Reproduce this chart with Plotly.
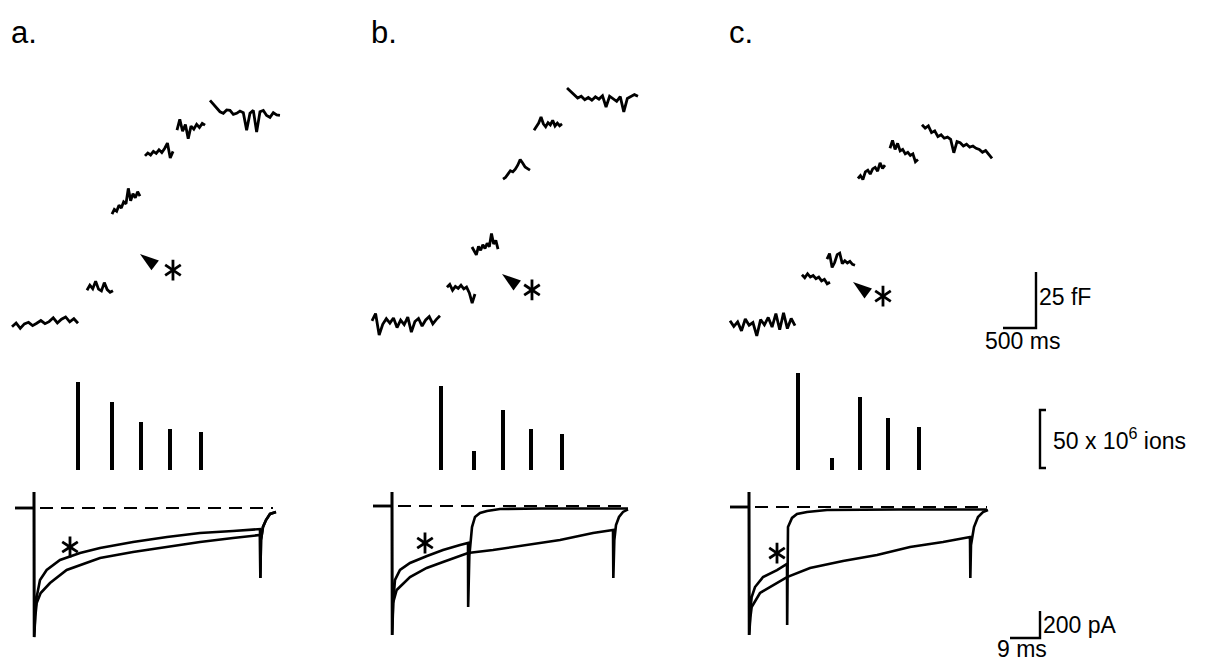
import numpy as np
import plotly.graph_objects as go

W, H = 1205, 663

# ================= DATA =================
panel_labels = ["a.", "b.", "c."]

# ---- membrane capacitance (fF, relative to pre-train baseline); segments between trains ----
cap_a_start = [0, 1136, 1515, 2015, 2500, 3000]
cap_a_end = [1000, 1530, 1939, 2440, 2925, 4060]
cap_a_vals = [
    [-0.8, 0.9, -1.5, 0.5, 1.2, -0.3, 0.8, 2.0, 0.6, 1.5, 3.2, 0.9, 2.6, 3.6, 1.4, 2.8, 0.8],
    [15.5, 17.8, 16.2, 19.5, 16.0, 15.2, 18.9, 15.8, 14.6, 15.3],
    [49.5, 51.6, 50.8, 53.5, 52.2, 55.0, 54.1, 61.0, 55.5, 58.6, 56.8, 59.5, 57.5],
    [75.5, 76.8, 75.9, 77.5, 76.6, 78.2, 77.0, 78.8, 81.2, 74.6, 77.5],
    [87.0, 91.8, 86.5, 89.5, 83.2, 88.8, 87.4, 89.6, 88.2, 90.0, 89.2],
    [100.3, 98.5, 97.1, 95.2, 94.5, 96.0, 95.8, 94.0, 94.5, 95.5, 94.8, 87.0, 94.5, 95.8,
     86.1, 95.2, 95.8, 93.5, 92.7, 94.8, 93.8, 93.6],
]

cap_b_start = [0, 1136, 1515, 1985, 2455, 2955]
cap_b_end = [1030, 1560, 1909, 2394, 2879, 4030]
cap_b_vals = [
    [0.5, 3.8, -5.8, -1.0, 1.5, -0.5, 1.8, -2.5, 0.8, -1.2, 2.2, -4.5, 0.2, 1.6, -1.8, 0.9, 2.4, -0.8, 1.2, 2.8],
    [15.5, 16.8, 14.2, 15.9, 15.0, 16.4, 14.8, 15.6, 13.0, 8.4, 12.5],
    [33.5, 31.5, 30.0, 33.8, 32.0, 34.5, 32.8, 35.2, 33.6, 39.5, 34.8, 36.4, 32.5],
    [63.8, 64.5, 66.0, 67.5, 67.0, 68.2, 70.0, 72.5, 71.0, 69.2, 68.5, 67.8],
    [85.6, 87.5, 88.8, 91.5, 88.5, 87.2, 89.0, 88.0, 90.0, 87.5, 88.8, 87.6, 88.4],
    [104.5, 103.0, 101.5, 100.0, 100.8, 99.2, 100.2, 99.0, 100.5, 99.5, 101.0, 96.0, 100.8,
     99.5, 98.5, 100.6, 93.8, 99.8, 100.5, 101.5, 100.8],
]

cap_c_start = [0, 1090, 1470, 1939, 2424, 2909]
cap_c_end = [985, 1515, 1894, 2348, 2848, 3970]
cap_c_vals = [
    [1.0, -1.5, 0.5, -3.5, 1.8, -1.0, 0.2, -5.8, 1.5, -0.8, 2.5, -1.8, 4.2, -3.0, 4.5, -2.5, 2.0, -1.2],
    [21.5, 20.2, 22.0, 20.5, 21.2, 19.8, 20.5, 18.8, 19.5, 17.5, 18.2],
    [28.5, 31.0, 24.8, 27.0, 30.5, 31.2, 26.5, 27.8, 26.8, 27.5, 26.2, 25.8],
    [64.5, 65.8, 64.0, 67.5, 68.2, 66.5, 68.8, 69.5, 67.8, 71.5, 69.0, 70.5],
    [78.0, 81.5, 77.5, 80.2, 76.8, 77.5, 75.5, 76.2, 74.8, 75.5, 72.0, 73.0],
    [88.5, 87.0, 88.0, 85.0, 85.8, 83.2, 84.0, 82.5, 83.0, 82.0, 76.0, 81.0, 80.5, 79.0,
     79.8, 78.5, 79.0, 78.0, 77.5, 76.2, 77.0, 75.0, 73.5],
]

# arrowhead tip and asterisk marking the test-pulse capacitance jump (ms, fF)
arrow_t = [1939, 1970, 1864]
arrow_c = [31.7, 21.4, 18.3]
cap_star_t = [2439, 2424, 2318]
cap_star_c = [24.5, 14.3, 12.0]

# ---- Ca2+ entry per depolarisation (x 10^6 ions) ----
ion_a_t = [1000, 1515, 1955, 2394, 2864]
ion_a_n = [76, 59, 41, 35, 33]
ion_b_t = [1045, 1545, 1985, 2409, 2879]
ion_b_n = [72, 16, 52, 35, 31]
ion_c_t = [1030, 1545, 1970, 2394, 2864]
ion_c_n = [84, 10, 63, 45, 37]

# ---- Ca2+ currents (ms, pA) ----
cur_a1_t = [-5.7, 0, 0, 0.05, 0.4, 0.8, 1.8, 3.8, 7.8, 13.8, 19.8, 29.7, 39.9, 49.8, 59.7, 67.2, 67.8,
            67.9, 68.1, 68.7, 69.6, 70.8, 72.6]
cur_a1_i = [0, 0, 118, -956, -760, -660, -533, -459, -385, -333, -296, -252, -215, -185, -170, -160, -156,
            -519, -237, -140, -89, -44, -30]
cur_a2_t = [-5.7, 0, 0, 0.05, 0.4, 0.8, 2.0, 4.8, 9.8, 19.8, 29.7, 39.9, 49.8, 59.7, 67.8,
            67.9, 68.1, 68.7, 69.6, 70.8, 72.6]
cur_a2_i = [0, 0, 118, -956, -800, -704, -630, -556, -459, -370, -326, -289, -252, -222, -200,
            -519, -237, -140, -89, -44, -30]

cur_b1_t = [-5.7, 0, 0, 0.05, 0.4, 0.9, 2.4, 5.4, 10.5, 15.3, 20.4, 22.8, 22.85, 23.2, 24.0, 24.9,
            26.4, 28.5, 32.4, 45, 70.8]
cur_b1_i = [0, 0, 104, -956, -700, -548, -474, -422, -370, -326, -289, -274, -748, -370, -156, -81,
            -52, -37, -22, -18, -18]
cur_b2_t = [-5.7, 0, 0, 0.05, 0.3, 1.4, 5.4, 10.4, 15.3, 22.8, 30.3, 40.5, 50.4, 60.3, 66.3,
            66.4, 66.7, 67.2, 68.1, 69.3, 70.8]
cur_b2_i = [0, 0, 104, -956, -719, -622, -526, -459, -415, -348, -326, -289, -252, -200, -178,
            -533, -252, -141, -81, -44, -25]

cur_c1_t = [-5.7, 0, 0, 0.05, 0.4, 0.8, 1.8, 4.2, 8.4, 11.4, 11.45, 11.7, 12.9, 14.4, 17.4, 23.4, 45, 71.4]
cur_c1_i = [0, 0, 111, -948, -760, -667, -593, -519, -467, -422, -874, -148, -81, -52, -37, -22, -18, -18]
cur_c2_t = [-5.7, 0, 0, 0.05, 0.4, 0.8, 3.3, 8.4, 11.4, 18.3, 28.2, 38.4, 48.3, 58.2, 66.3,
            66.4, 66.6, 67.5, 68.7, 70.2, 71.7]
cur_c2_i = [0, 0, 111, -948, -820, -741, -637, -563, -519, -452, -400, -356, -296, -259, -222,
            -526, -282, -148, -74, -37, -22]

zero_t_end = [71.7, 70.8, 71.4]
cur_star_t = [10.8, 9.9, 8.4]
cur_star_i = [-289, -274, -341]

# scale bar sizes
SB_CAP_MS, SB_CAP_FF = 500, 25
SB_IONS = 50
SB_CUR_MS, SB_CUR_PA = 9, 200

# ================= LAYOUT GEOMETRY (pixels) =================
K_CAP = 500 / 33      # ms per px
F_CAP = 25 / 56       # fF per px
R_ION = 50 / 58       # 1e6 ions per px
T_CUR = 9 / 30        # ms per px
G_CUR = 200 / 27      # pA per px

cap_origin_px = [12, 372, 730]
cap_base_py = [325, 322, 323]
cur_origin_px = [34, 392, 749]
cur_zero_py = [508, 506, 507]
ion_base_py = 470
col_px = [(0, 360), (360, 720), (720, 1205)]
cap_py = (50, 355)
ion_py = (356, 478)
cur_py = (480, 663)

FONT = "Liberation Sans, Arial, Helvetica, sans-serif"
INK = "black"

fig = go.Figure()
layout = dict(width=W, height=H, margin=dict(l=0, r=0, t=0, b=0),
              paper_bgcolor="white", plot_bgcolor="white", showlegend=False)

def xdom(a, b):
    return [a / W, b / W]

def ydom(top, bot):
    return [1 - bot / H, 1 - top / H]

caps = [(cap_a_start, cap_a_end, cap_a_vals), (cap_b_start, cap_b_end, cap_b_vals),
        (cap_c_start, cap_c_end, cap_c_vals)]
ions = [(ion_a_t, ion_a_n), (ion_b_t, ion_b_n), (ion_c_t, ion_c_n)]
curs = [[(cur_a1_t, cur_a1_i), (cur_a2_t, cur_a2_i)],
        [(cur_b1_t, cur_b1_i), (cur_b2_t, cur_b2_i)],
        [(cur_c1_t, cur_c1_i), (cur_c2_t, cur_c2_i)]]

hidden = dict(visible=False, showgrid=False, zeroline=False, fixedrange=True)

def sfx(n):
    return "" if n == 1 else str(n)

for p in range(3):
    xc, xi = p + 1, p + 4          # x axes: cap/ion time, current time
    yc, yn, yi = p + 1, p + 4, p + 7
    d0, d1 = col_px[p]
    o = cap_origin_px[p]
    layout["xaxis" + sfx(xc)] = dict(hidden, domain=xdom(d0, d1),
                                     range=[(d0 - o) * K_CAP, (d1 - o) * K_CAP], anchor="y" + sfx(yc))
    b = cap_base_py[p]
    layout["yaxis" + sfx(yc)] = dict(hidden, domain=ydom(*cap_py),
                                     range=[(b - cap_py[1]) * F_CAP, (b - cap_py[0]) * F_CAP], anchor="x" + sfx(xc))
    layout["yaxis" + sfx(yn)] = dict(hidden, domain=ydom(*ion_py),
                                     range=[(ion_base_py - ion_py[1]) * R_ION, (ion_base_py - ion_py[0]) * R_ION],
                                     anchor="x" + sfx(xc))
    oc = cur_origin_px[p]
    layout["xaxis" + sfx(xi)] = dict(hidden, domain=xdom(d0, d1),
                                     range=[(d0 - oc) * T_CUR, (d1 - oc) * T_CUR], anchor="y" + sfx(yi))
    z = cur_zero_py[p]
    layout["yaxis" + sfx(yi)] = dict(hidden, domain=ydom(*cur_py),
                                     range=[(z - cur_py[1]) * G_CUR, (z - cur_py[0]) * G_CUR], anchor="x" + sfx(xi))

    xa, ya = "x" + sfx(xc), "y" + sfx(yc)
    # capacitance segments
    st, en, vals = caps[p]
    xs, ys = [], []
    for s, e, v in zip(st, en, vals):
        xs += list(np.linspace(s, e, len(v))) + [None]
        ys += list(v) + [None]
    fig.add_trace(go.Scatter(x=xs, y=ys, mode="lines", xaxis=xa, yaxis=ya,
                             line=dict(color=INK, width=2.8), hoverinfo="skip"))
    # arrowhead
    fig.add_trace(go.Scatter(x=[arrow_t[p]], y=[arrow_c[p]], mode="markers", xaxis=xa, yaxis=ya,
                             marker=dict(symbol="arrow", size=20, angle=-53, color=INK,
                                         line=dict(width=0)), hoverinfo="skip"))
    # asterisks (cap and current)
    for (sx, sy, ax_, ay_) in [(cap_star_t[p], cap_star_c[p], xa, ya),
                               (cur_star_t[p], cur_star_i[p], "x" + sfx(xi), "y" + sfx(yi))]:
        fig.add_trace(go.Scatter(x=[sx, sx], y=[sy, sy], mode="markers", xaxis=ax_, yaxis=ay_,
                                 marker=dict(symbol=["y-up-open", "y-down-open"], size=13, color=INK,
                                             line=dict(color=INK, width=2.8)), hoverinfo="skip"))
    # ions
    it, inn = ions[p]
    fig.add_trace(go.Bar(x=it, y=inn, width=48, marker=dict(color=INK, line=dict(width=0)),
                         xaxis=xa, yaxis="y" + sfx(yn), hoverinfo="skip"))
    # currents
    xk, yk = "x" + sfx(xi), "y" + sfx(yi)
    fig.add_trace(go.Scatter(x=[1.8, zero_t_end[p]], y=[0, 0], mode="lines", xaxis=xk, yaxis=yk,
                             line=dict(color=INK, width=2.2, dash="13px,8px"), hoverinfo="skip"))
    for (ct, ci) in curs[p]:
        fig.add_trace(go.Scatter(x=ct, y=ci, mode="lines", xaxis=xk, yaxis=yk,
                                 line=dict(color=INK, width=2.6), hoverinfo="skip"))

layout["bargap"] = 0
fig.update_layout(**layout)

# panel labels
for p in range(3):
    fig.add_annotation(text=panel_labels[p], x=(cap_origin_px[p] - 3) / W, y=1 - 32 / H, xref="paper",
                       yref="paper", xanchor="left", yanchor="middle", showarrow=False,
                       font=dict(family=FONT, size=31, color=INK))

# ---- scale bars (drawn in panel c's data coordinates) ----
tc = (1036 - cap_origin_px[2]) * K_CAP
fc = (cap_base_py[2] - 328) * F_CAP
fig.add_trace(go.Scatter(x=[tc - SB_CAP_MS, tc, tc], y=[fc, fc, fc + SB_CAP_FF], mode="lines",
                         xaxis="x3", yaxis="y3", line=dict(color=INK, width=2.4), hoverinfo="skip"))
fig.add_annotation(text="25 fF", x=tc, y=fc + SB_CAP_FF / 2 + 1.5, xref="x3", yref="y3", xanchor="left",
                   yanchor="middle", xshift=1, showarrow=False, font=dict(family=FONT, size=23, color=INK))
fig.add_annotation(text="500 ms", x=tc - SB_CAP_MS / 2 + 40, y=fc, xref="x3", yref="y3", xanchor="center",
                   yanchor="top", yshift=2, showarrow=False, font=dict(family=FONT, size=23, color=INK))

ti = (1040 - cap_origin_px[2]) * K_CAP
n0 = (ion_base_py - 468) * R_ION
arm = 6 * K_CAP
fig.add_trace(go.Scatter(x=[ti + arm, ti, ti, ti + arm], y=[n0, n0, n0 + SB_IONS, n0 + SB_IONS], mode="lines",
                         xaxis="x3", yaxis="y6", line=dict(color=INK, width=2.4), hoverinfo="skip"))
fig.add_annotation(text="50 x 10<sup>6</sup> ions", x=ti, y=n0 + SB_IONS / 2, xref="x3", yref="y6",
                   xanchor="left", yanchor="middle", xshift=11, showarrow=False,
                   font=dict(family=FONT, size=23, color=INK))

tk = (1040 - cur_origin_px[2]) * T_CUR
i0 = (cur_zero_py[2] - 638) * G_CUR
fig.add_trace(go.Scatter(x=[tk - SB_CUR_MS, tk, tk], y=[i0, i0, i0 + SB_CUR_PA], mode="lines",
                         xaxis="x6", yaxis="y9", line=dict(color=INK, width=2.4), hoverinfo="skip"))
fig.add_annotation(text="200 pA", x=tk, y=i0 + SB_CUR_PA / 2, xref="x6", yref="y9", xanchor="left",
                   yanchor="middle", xshift=1, showarrow=False, font=dict(family=FONT, size=23, color=INK))
fig.add_annotation(text="9 ms", x=tk - SB_CUR_MS / 2 - 1, y=i0, xref="x6", yref="y9", xanchor="center",
                   yanchor="top", yshift=4, showarrow=False, font=dict(family=FONT, size=23, color=INK))

fig.write_html("out.html", config={"displayModeBar": False},
               post_script="document.body.style.margin='0';document.body.style.overflow='hidden';")
